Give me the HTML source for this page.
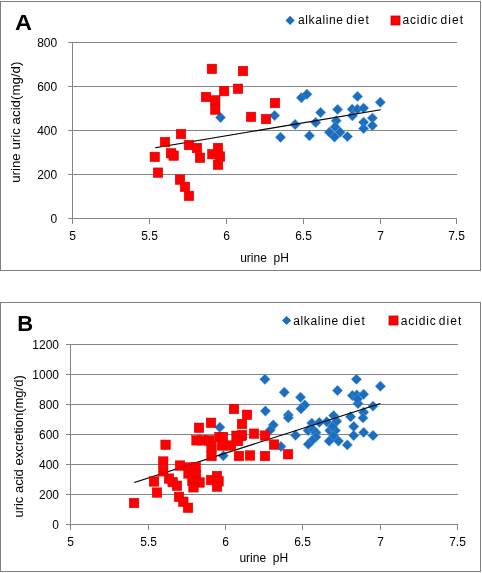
<!DOCTYPE html>
<html><head><meta charset="utf-8"><style>
html,body{margin:0;padding:0;background:#fff;}
body{width:482px;height:573px;overflow:hidden;}
svg{display:block;will-change:transform;}
.t{font-family:"Liberation Sans",sans-serif;font-size:12px;fill:#000;}
.L{font-family:"Liberation Sans",sans-serif;font-size:22px;font-weight:bold;fill:#000;}
</style></head><body>
<svg width="482" height="573" viewBox="0 0 482 573">
<rect width="482" height="573" fill="#fff"/>
<rect x="0.5" y="1.5" width="480" height="269" fill="none" stroke="#808080" stroke-width="1"/>
<line x1="68" y1="42.5" x2="457" y2="42.5" stroke="#868686" stroke-width="1"/>
<line x1="68" y1="86.5" x2="457" y2="86.5" stroke="#868686" stroke-width="1"/>
<line x1="68" y1="130.5" x2="457" y2="130.5" stroke="#868686" stroke-width="1"/>
<line x1="68" y1="174.5" x2="457" y2="174.5" stroke="#868686" stroke-width="1"/>
<line x1="68" y1="218.5" x2="457" y2="218.5" stroke="#868686" stroke-width="1"/>
<line x1="72.5" y1="42" x2="72.5" y2="224" stroke="#868686" stroke-width="1"/>
<line x1="72.5" y1="218" x2="72.5" y2="224" stroke="#868686" stroke-width="1"/>
<line x1="149.5" y1="218" x2="149.5" y2="224" stroke="#868686" stroke-width="1"/>
<line x1="226.5" y1="218" x2="226.5" y2="224" stroke="#868686" stroke-width="1"/>
<line x1="303.5" y1="218" x2="303.5" y2="224" stroke="#868686" stroke-width="1"/>
<line x1="380.5" y1="218" x2="380.5" y2="224" stroke="#868686" stroke-width="1"/>
<line x1="456.5" y1="218" x2="456.5" y2="224" stroke="#868686" stroke-width="1"/>
<text x="57.2" y="46.8" text-anchor="end" class="t">800</text>
<text x="57.2" y="90.8" text-anchor="end" class="t">600</text>
<text x="57.2" y="134.8" text-anchor="end" class="t">400</text>
<text x="57.2" y="178.8" text-anchor="end" class="t">200</text>
<text x="57.2" y="222.8" text-anchor="end" class="t">0</text>
<text x="72.5" y="239.8" text-anchor="middle" class="t">5</text>
<text x="149.5" y="239.8" text-anchor="middle" class="t">5.5</text>
<text x="226.5" y="239.8" text-anchor="middle" class="t">6</text>
<text x="303.5" y="239.8" text-anchor="middle" class="t">6.5</text>
<text x="380.5" y="239.8" text-anchor="middle" class="t">7</text>
<text x="456.5" y="239.8" text-anchor="middle" class="t">7.5</text>
<text transform="translate(19.9,182.8) rotate(-90)" class="t" style="font-size:13.3px">urine uric acid(mg/d)</text>
<text x="264.5" y="261.9" text-anchor="middle" class="t" style="white-space:pre">urine  pH</text>
<text transform="translate(15,30) scale(1.07,1)" class="L">A</text>
<g fill="#1b6ebd"><path d="M290.1 15.8L294.7 20.4L290.1 25.0L285.5 20.4Z"/></g>
<rect x="391" y="16" width="9" height="9" fill="#ff0000" stroke="#c00000" stroke-width="0.8"/>
<text x="298.0" y="23.9" class="t" letter-spacing="0.6">alkaline</text>
<text x="346.2" y="23.9" class="t" letter-spacing="1.1">diet</text>
<text x="402.4" y="23.9" class="t" letter-spacing="0.84">acidic</text>
<text x="440.5" y="23.9" class="t" letter-spacing="1.1">diet</text>
<g fill="#1b6ebd" stroke="#62a0dc" stroke-width="0.5"><path d="M220.5 112.3L225.7 117.5L220.5 122.7L215.3 117.5Z"/><path d="M274.6 110.3L279.8 115.5L274.6 120.7L269.4 115.5Z"/><path d="M280.5 132.1L285.7 137.3L280.5 142.5L275.3 137.3Z"/><path d="M295.1 119.3L300.3 124.5L295.1 129.7L289.9 124.5Z"/><path d="M301.4 92.5L306.6 97.7L301.4 102.9L296.2 97.7Z"/><path d="M306.9 89.1L312.1 94.3L306.9 99.5L301.7 94.3Z"/><path d="M315.7 117.3L320.9 122.5L315.7 127.7L310.5 122.5Z"/><path d="M309.4 130.5L314.6 135.7L309.4 140.9L304.2 135.7Z"/><path d="M320.6 107.3L325.8 112.5L320.6 117.7L315.4 112.5Z"/><path d="M337.6 104.2L342.8 109.4L337.6 114.6L332.4 109.4Z"/><path d="M352.2 104.0L357.4 109.2L352.2 114.4L347.0 109.2Z"/><path d="M357.4 104.0L362.6 109.2L357.4 114.4L352.2 109.2Z"/><path d="M363.6 102.9L368.8 108.1L363.6 113.3L358.4 108.1Z"/><path d="M352.4 110.6L357.6 115.8L352.4 121.0L347.2 115.8Z"/><path d="M357.5 91.2L362.7 96.4L357.5 101.6L352.3 96.4Z"/><path d="M380.3 97.1L385.5 102.3L380.3 107.5L375.1 102.3Z"/><path d="M336.2 115.6L341.4 120.8L336.2 126.0L331.0 120.8Z"/><path d="M335.1 121.7L340.3 126.9L335.1 132.1L329.9 126.9Z"/><path d="M329.4 127.0L334.6 132.2L329.4 137.4L324.2 132.2Z"/><path d="M340.1 127.0L345.3 132.2L340.1 137.4L334.9 132.2Z"/><path d="M334.5 131.8L339.7 137.0L334.5 142.2L329.3 137.0Z"/><path d="M347.4 131.4L352.6 136.6L347.4 141.8L342.2 136.6Z"/><path d="M363.6 117.0L368.8 122.2L363.6 127.4L358.4 122.2Z"/><path d="M363.6 123.4L368.8 128.6L363.6 133.8L358.4 128.6Z"/><path d="M372.4 112.9L377.6 118.1L372.4 123.3L367.2 118.1Z"/><path d="M372.4 120.4L377.6 125.6L372.4 130.8L367.2 125.6Z"/></g>
<line x1="155.2" y1="147.8" x2="380.7" y2="109.7" stroke="#000" stroke-width="1.1"/>
<g fill="#ff0000" stroke="#d40000" stroke-width="0.45"><rect x="207.1" y="64.1" width="9.6" height="9.6"/><rect x="238.2" y="66.2" width="9.6" height="9.6"/><rect x="219.3" y="86.3" width="9.6" height="9.6"/><rect x="233.2" y="84.0" width="9.6" height="9.6"/><rect x="201.2" y="92.2" width="9.6" height="9.6"/><rect x="210.4" y="95.5" width="9.6" height="9.6"/><rect x="210.4" y="104.9" width="9.6" height="9.6"/><rect x="246.2" y="112.1" width="9.6" height="9.6"/><rect x="261.2" y="114.2" width="9.6" height="9.6"/><rect x="270.2" y="98.2" width="9.6" height="9.6"/><rect x="176.2" y="129.2" width="9.6" height="9.6"/><rect x="160.2" y="137.2" width="9.6" height="9.6"/><rect x="150.0" y="152.1" width="9.6" height="9.6"/><rect x="166.2" y="148.4" width="9.6" height="9.6"/><rect x="168.9" y="150.9" width="9.6" height="9.6"/><rect x="184.2" y="140.2" width="9.6" height="9.6"/><rect x="192.2" y="143.2" width="9.6" height="9.6"/><rect x="195.2" y="153.0" width="9.6" height="9.6"/><rect x="213.2" y="143.2" width="9.6" height="9.6"/><rect x="207.5" y="149.3" width="9.6" height="9.6"/><rect x="215.2" y="151.8" width="9.6" height="9.6"/><rect x="213.2" y="160.0" width="9.6" height="9.6"/><rect x="153.2" y="167.9" width="9.6" height="9.6"/><rect x="175.2" y="174.9" width="9.6" height="9.6"/><rect x="180.2" y="182.1" width="9.6" height="9.6"/><rect x="184.2" y="191.1" width="9.6" height="9.6"/></g>
<line x1="155.2" y1="147.8" x2="380.7" y2="109.7" stroke="#000" stroke-width="1.1" stroke-opacity="0.18"/>
<rect x="0.5" y="302.5" width="480" height="269" fill="none" stroke="#808080" stroke-width="1"/>
<line x1="66" y1="344.5" x2="458" y2="344.5" stroke="#868686" stroke-width="1"/>
<line x1="66" y1="374.5" x2="458" y2="374.5" stroke="#868686" stroke-width="1"/>
<line x1="66" y1="404.5" x2="458" y2="404.5" stroke="#868686" stroke-width="1"/>
<line x1="66" y1="434.5" x2="458" y2="434.5" stroke="#868686" stroke-width="1"/>
<line x1="66" y1="464.5" x2="458" y2="464.5" stroke="#868686" stroke-width="1"/>
<line x1="66" y1="494.5" x2="458" y2="494.5" stroke="#868686" stroke-width="1"/>
<line x1="66" y1="524.5" x2="458" y2="524.5" stroke="#868686" stroke-width="1"/>
<line x1="70.5" y1="344" x2="70.5" y2="530" stroke="#868686" stroke-width="1"/>
<line x1="70.5" y1="524" x2="70.5" y2="530" stroke="#868686" stroke-width="1"/>
<line x1="148.5" y1="524" x2="148.5" y2="530" stroke="#868686" stroke-width="1"/>
<line x1="225.5" y1="524" x2="225.5" y2="530" stroke="#868686" stroke-width="1"/>
<line x1="302.5" y1="524" x2="302.5" y2="530" stroke="#868686" stroke-width="1"/>
<line x1="380.5" y1="524" x2="380.5" y2="530" stroke="#868686" stroke-width="1"/>
<line x1="457.5" y1="524" x2="457.5" y2="530" stroke="#868686" stroke-width="1"/>
<text x="59" y="348.8" text-anchor="end" class="t">1200</text>
<text x="59" y="378.8" text-anchor="end" class="t">1000</text>
<text x="59" y="408.8" text-anchor="end" class="t">800</text>
<text x="59" y="438.8" text-anchor="end" class="t">600</text>
<text x="59" y="468.8" text-anchor="end" class="t">400</text>
<text x="59" y="498.8" text-anchor="end" class="t">200</text>
<text x="59" y="528.8" text-anchor="end" class="t">0</text>
<text x="70.5" y="545.9" text-anchor="middle" class="t">5</text>
<text x="148.5" y="545.9" text-anchor="middle" class="t">5.5</text>
<text x="225.5" y="545.9" text-anchor="middle" class="t">6</text>
<text x="302.5" y="545.9" text-anchor="middle" class="t">6.5</text>
<text x="380.5" y="545.9" text-anchor="middle" class="t">7</text>
<text x="457.5" y="545.9" text-anchor="middle" class="t">7.5</text>
<text transform="translate(22.9,517.6) rotate(-90)" class="t" style="font-size:13px">uric acid excretion(mg/d)</text>
<text x="263.8" y="562.4" text-anchor="middle" class="t" style="white-space:pre">urine  pH</text>
<text transform="translate(17.3,331) scale(1.0,1)" class="L">B</text>
<g fill="#1b6ebd"><path d="M286.6 315.9L291.2 320.5L286.6 325.1L282.0 320.5Z"/></g>
<rect x="389" y="316" width="9" height="9" fill="#ff0000" stroke="#c00000" stroke-width="0.8"/>
<text x="293.3" y="324.5" class="t" letter-spacing="0.6">alkaline</text>
<text x="342.2" y="324.5" class="t" letter-spacing="1.1">diet</text>
<text x="400.8" y="324.5" class="t" letter-spacing="0.84">acidic</text>
<text x="438.8" y="324.5" class="t" letter-spacing="1.1">diet</text>
<g fill="#1b6ebd" stroke="#62a0dc" stroke-width="0.5"><path d="M264.9 374.1L270.1 379.3L264.9 384.5L259.7 379.3Z"/><path d="M284.3 387.1L289.5 392.3L284.3 397.5L279.1 392.3Z"/><path d="M300.5 392.0L305.7 397.2L300.5 402.4L295.3 397.2Z"/><path d="M304.8 399.7L310.0 404.9L304.8 410.1L299.6 404.9Z"/><path d="M301.0 403.5L306.2 408.7L301.0 413.9L295.8 408.7Z"/><path d="M265.4 405.8L270.6 411.0L265.4 416.2L260.2 411.0Z"/><path d="M288.3 409.8L293.5 415.0L288.3 420.2L283.1 415.0Z"/><path d="M288.3 412.6L293.5 417.8L288.3 423.0L283.1 417.8Z"/><path d="M273.3 419.8L278.5 425.0L273.3 430.2L268.1 425.0Z"/><path d="M270.3 424.8L275.5 430.0L270.3 435.2L265.1 430.0Z"/><path d="M295.5 430.0L300.7 435.2L295.5 440.4L290.3 435.2Z"/><path d="M280.9 441.3L286.1 446.5L280.9 451.7L275.7 446.5Z"/><path d="M311.8 417.9L317.0 423.1L311.8 428.3L306.6 423.1Z"/><path d="M319.3 417.2L324.5 422.4L319.3 427.6L314.1 422.4Z"/><path d="M326.7 416.6L331.9 421.8L326.7 427.0L321.5 421.8Z"/><path d="M333.6 410.4L338.8 415.6L333.6 420.8L328.4 415.6Z"/><path d="M336.7 416.0L341.9 421.2L336.7 426.4L331.5 421.2Z"/><path d="M308.1 425.3L313.3 430.5L308.1 435.7L302.9 430.5Z"/><path d="M313.0 424.3L318.2 429.5L313.0 434.7L307.8 429.5Z"/><path d="M315.9 427.3L321.1 432.5L315.9 437.7L310.7 432.5Z"/><path d="M315.9 431.8L321.1 437.0L315.9 442.2L310.7 437.0Z"/><path d="M312.0 435.3L317.2 440.5L312.0 445.7L306.8 440.5Z"/><path d="M308.3 439.1L313.5 444.3L308.3 449.5L303.1 444.3Z"/><path d="M329.8 425.3L335.0 430.5L329.8 435.7L324.6 430.5Z"/><path d="M335.4 425.3L340.6 430.5L335.4 435.7L330.2 430.5Z"/><path d="M332.5 421.3L337.7 426.5L332.5 431.7L327.3 426.5Z"/><path d="M333.6 430.8L338.8 436.0L333.6 441.2L328.4 436.0Z"/><path d="M329.2 435.9L334.4 441.1L329.2 446.3L324.0 441.1Z"/><path d="M338.5 435.9L343.7 441.1L338.5 446.3L333.3 441.1Z"/><path d="M347.3 439.7L352.5 444.9L347.3 450.1L342.1 444.9Z"/><path d="M356.4 374.1L361.6 379.3L356.4 384.5L351.2 379.3Z"/><path d="M380.4 381.0L385.6 386.2L380.4 391.4L375.2 386.2Z"/><path d="M337.5 385.3L342.7 390.5L337.5 395.7L332.3 390.5Z"/><path d="M352.4 390.3L357.6 395.5L352.4 400.7L347.2 395.5Z"/><path d="M356.8 389.7L362.0 394.9L356.8 400.1L351.6 394.9Z"/><path d="M363.6 389.1L368.8 394.3L363.6 399.5L358.4 394.3Z"/><path d="M358.0 398.4L363.2 403.6L358.0 408.8L352.8 403.6Z"/><path d="M357.5 393.8L362.7 399.0L357.5 404.2L352.3 399.0Z"/><path d="M373.0 400.9L378.2 406.1L373.0 411.3L367.8 406.1Z"/><path d="M363.6 407.1L368.8 412.3L363.6 417.5L358.4 412.3Z"/><path d="M363.0 412.7L368.2 417.9L363.0 423.1L357.8 417.9Z"/><path d="M350.6 411.6L355.8 416.8L350.6 422.0L345.4 416.8Z"/><path d="M353.8 421.3L359.0 426.5L353.8 431.7L348.6 426.5Z"/><path d="M363.7 427.2L368.9 432.4L363.7 437.6L358.5 432.4Z"/><path d="M353.7 430.3L358.9 435.5L353.7 440.7L348.5 435.5Z"/><path d="M373.0 430.3L378.2 435.5L373.0 440.7L367.8 435.5Z"/><path d="M223.3 450.5L228.5 455.7L223.3 460.9L218.1 455.7Z"/><path d="M219.8 422.1L225.0 427.3L219.8 432.5L214.6 427.3Z"/></g>
<line x1="134.3" y1="482.5" x2="380.4" y2="403.4" stroke="#000" stroke-width="1.1"/>
<g fill="#ff0000" stroke="#d40000" stroke-width="0.45"><rect x="129.2" y="498.2" width="9.6" height="9.6"/><rect x="160.8" y="440.0" width="9.6" height="9.6"/><rect x="158.4" y="456.7" width="9.6" height="9.6"/><rect x="158.4" y="466.5" width="9.6" height="9.6"/><rect x="175.2" y="460.8" width="9.6" height="9.6"/><rect x="149.2" y="476.7" width="9.6" height="9.6"/><rect x="152.2" y="487.8" width="9.6" height="9.6"/><rect x="164.2" y="473.8" width="9.6" height="9.6"/><rect x="167.9" y="477.3" width="9.6" height="9.6"/><rect x="172.2" y="481.0" width="9.6" height="9.6"/><rect x="174.2" y="492.1" width="9.6" height="9.6"/><rect x="178.5" y="497.0" width="9.6" height="9.6"/><rect x="183.2" y="503.0" width="9.6" height="9.6"/><rect x="191.0" y="462.3" width="9.6" height="9.6"/><rect x="184.7" y="462.7" width="9.6" height="9.6"/><rect x="183.7" y="468.6" width="9.6" height="9.6"/><rect x="191.2" y="470.2" width="9.6" height="9.6"/><rect x="187.5" y="476.0" width="9.6" height="9.6"/><rect x="194.9" y="477.7" width="9.6" height="9.6"/><rect x="188.7" y="482.5" width="9.6" height="9.6"/><rect x="212.2" y="471.2" width="9.6" height="9.6"/><rect x="206.2" y="475.2" width="9.6" height="9.6"/><rect x="213.8" y="476.5" width="9.6" height="9.6"/><rect x="212.2" y="481.9" width="9.6" height="9.6"/><rect x="229.2" y="404.2" width="9.6" height="9.6"/><rect x="242.2" y="410.0" width="9.6" height="9.6"/><rect x="237.2" y="419.2" width="9.6" height="9.6"/><rect x="206.2" y="418.0" width="9.6" height="9.6"/><rect x="194.2" y="423.0" width="9.6" height="9.6"/><rect x="249.2" y="428.9" width="9.6" height="9.6"/><rect x="232.2" y="431.0" width="9.6" height="9.6"/><rect x="237.2" y="430.2" width="9.6" height="9.6"/><rect x="260.2" y="430.8" width="9.6" height="9.6"/><rect x="269.2" y="439.8" width="9.6" height="9.6"/><rect x="234.2" y="451.2" width="9.6" height="9.6"/><rect x="245.2" y="450.7" width="9.6" height="9.6"/><rect x="260.2" y="451.2" width="9.6" height="9.6"/><rect x="283.2" y="449.4" width="9.6" height="9.6"/><rect x="191.7" y="435.5" width="9.6" height="9.6"/><rect x="197.7" y="435.5" width="9.6" height="9.6"/><rect x="204.7" y="435.5" width="9.6" height="9.6"/><rect x="206.7" y="441.7" width="9.6" height="9.6"/><rect x="206.7" y="451.2" width="9.6" height="9.6"/><rect x="214.7" y="432.2" width="9.6" height="9.6"/><rect x="218.2" y="432.2" width="9.6" height="9.6"/><rect x="217.2" y="440.7" width="9.6" height="9.6"/><rect x="226.2" y="440.7" width="9.6" height="9.6"/><rect x="231.7" y="431.2" width="9.6" height="9.6"/><rect x="236.2" y="431.2" width="9.6" height="9.6"/><rect x="233.2" y="436.2" width="9.6" height="9.6"/></g>
<line x1="134.3" y1="482.5" x2="380.4" y2="403.4" stroke="#000" stroke-width="1.1" stroke-opacity="0.18"/>
</svg>
</body></html>
